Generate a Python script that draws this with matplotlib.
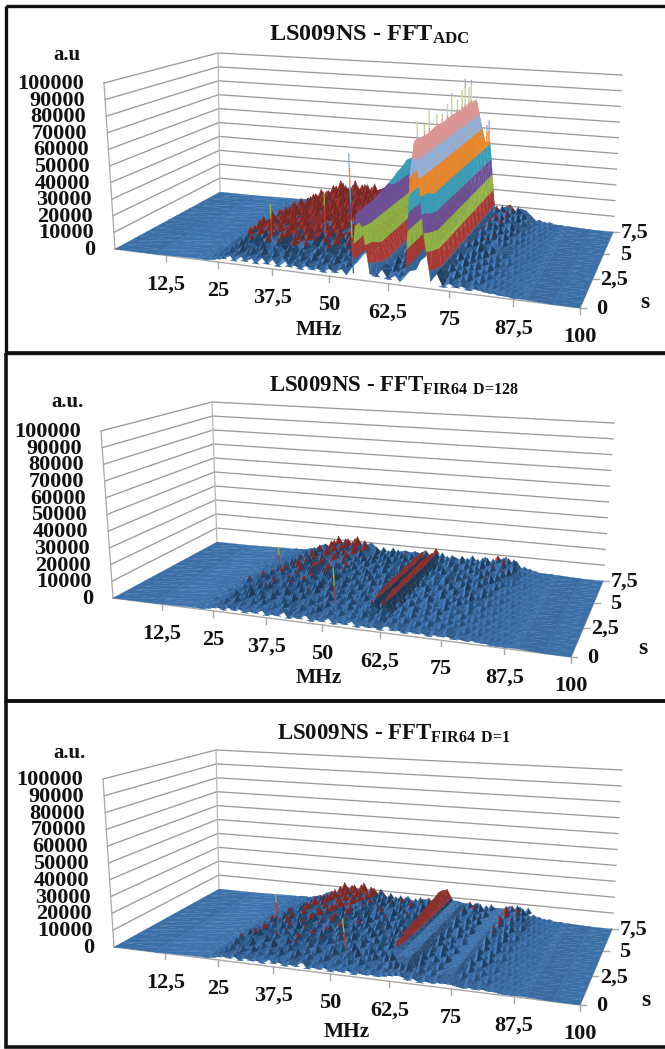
import numpy as np
import matplotlib
matplotlib.use('Agg')
import matplotlib.pyplot as plt
from matplotlib.collections import PolyCollection
from matplotlib.patches import Rectangle

plt.rcParams['font.family'] = ['Liberation Serif', 'DejaVu Serif']
plt.rcParams['font.weight'] = 'bold'
plt.rcParams['mathtext.fontset'] = 'custom'
plt.rcParams['mathtext.rm'] = 'Liberation Serif:bold'
plt.rcParams['mathtext.default'] = 'rm'

W, H = 665, 1049

# axes
FREQ = [0, 10, 20, 22.5, 23.75, 25, 26.25, 27.5, 28.75, 30, 31.25, 32.5, 33.75, 35, 36.25, 37.5, 38.75, 40, 41.25, 42.5,
        43.75, 45, 46.25, 47.5, 48.75, 50, 51.25, 52.5, 53.75, 55, 56.25, 57.5, 58.75, 60, 61.25, 62.5, 63.75, 65, 66.25,
        67.5, 68.75, 70, 71.25, 72.5, 73.75, 75, 76.25, 77.5, 78.75, 80, 81.25, 82.5, 83.75, 85, 86.25, 87.5, 90, 95, 100]
TIME = [0, 0.5, 1, 1.5, 2, 2.5, 3, 3.5, 4, 4.5, 5, 5.5, 6, 6.5, 7, 7.5]
FREQ_TICKS = [12.5, 25, 37.5, 50, 62.5, 75, 87.5, 100]
FREQ_LABELS = ['12,5', '25', '37,5', '50', '62,5', '75', '87,5', '100']
TIME_TICKS = [0, 2.5, 5, 7.5]
TIME_LABELS = ['0', '2,5', '5', '7,5']
AMP_TICKS = [0, 10, 20, 30, 40, 50, 60, 70, 80, 90, 100]  # thousands

# amplitude, thousands of a.u., rows front (0 s) to back (7.5 s)
ADC = [
    [0,0,1, 1,2,3,4,6,3,7,4,6,3, 7,4,6,3,8,4,6,3,7,4, 6,3,7,4,6,3,7,36,30,7, 5,8,4,6,3,7,60,80,30,7, 9,3,7,4,6,3,5,4,3,3, 2,2,1, 1,0,0],
    [0,0,1, 2,3,4,7,5,9,6,8,5,9, 6,8,5,9,7,5,8,6,9,5, 8,6,9,5,7,6,8,37,37,24, 24,8,9,5,8,6,78,78,51,51, 9,5,9,6,8,5,7,4,4,3, 2,2,1, 1,0,0],
    [0,0,1, 1,3,5,6,9,7,12,6,9,13, 7,12,6,9,14,7,12,6,9,7, 12,6,8,7,11,6,9,37,37,24, 24,8,10,7,9,5,78,78,51,51, 9,9,5,8,6,7,5,6,3,3, 2,1,1, 1,0,0],
    [0,0,1, 2,2,6,8,14,8,15,9,14,8, 13,16,9,14,8,15,12,7,13,8, 14,9,12,7,11,8,9,37,37,24, 24,8,7,10,6,9,77,78,51,51, 9,6,10,7,8,5,8,5,4,3, 2,2,1, 1,0,0],
    [0,0,1, 1,4,5,9,12,16,10,16,11,15, 9,17,12,10,16,11,18,9,15,10, 16,8,13,9,14,7,10,38,38,24, 24,8,10,6,9,8,77,78,51,51, 9,10,7,9,6,8,5,7,3,2, 3,1,1, 1,0,0],
    [0,0,1, 2,3,4,8,15,11,17,12,18,10, 16,11,18,12,16,10,15,12,18,9, 11,16,9,14,8,12,9,39,39,24, 24,8,6,11,7,10,78,79,51,51, 9,7,9,8,10,6,7,4,5,3, 2,2,1, 1,0,0],
    [0,0,1, 1,3,6,7,10,16,11,17,13,18, 11,18,13,10,17,13,11,18,12,16, 10,14,11,9,12,8,11,40,40,24, 24,8,10,8,6,9,78,79,51,51, 9,11,6,10,7,9,6,6,3,3, 2,1,1, 1,0,0],
    [0,0,1, 2,2,5,9,8,12,17,10,18,12, 16,11,19,13,17,11,15,18,12,10, 15,11,13,10,9,12,10,41,42,24, 24,8,6,9,8,7,77,79,51,51, 9,10,8,11,6,8,7,5,4,2, 3,2,1, 1,0,0],
    [0,0,1, 1,4,4,7,12,9,14,18,12,17, 11,18,12,16,13,19,11,15,17,12, 11,16,10,14,9,11,8,43,42,24, 24,8,10,6,9,7,78,80,51,51, 9,6,10,9,11,7,8,5,3,3, 2,2,1, 1,0,0],
    [0,0,1, 2,2,6,5,9,14,11,16,18,13, 17,12,16,19,13,17,12,16,11,15, 17,12,10,15,11,9,11,44,45,24, 24,8,7,10,6,9,78,79,51,51, 9,11,8,10,7,9,6,6,4,2, 2,1,1, 1,0,0],
    [0,0,1, 1,3,4,7,6,10,15,12,17,19, 13,17,14,12,18,13,16,19,13,11, 16,10,14,11,12,10,9,46,44,24, 24,8,9,8,10,7,78,80,51,51, 9,7,11,8,10,6,9,4,5,3, 2,2,1, 1,0,0],
    [0,0,1, 2,2,5,6,8,7,12,16,13,18, 19,14,12,18,16,12,19,14,17,12, 10,15,12,9,13,11,10,45,47,24, 24,8,10,7,9,6,77,80,51,51, 9,11,9,12,7,10,7,6,3,3, 2,1,1, 1,0,0],
    [0,0,1, 1,3,3,5,7,9,8,13,17,14, 12,18,20,13,17,14,12,18,13,16, 11,14,10,12,9,15,11,44,46,24, 24,8,9,6,10,8,78,81,51,51, 9,7,12,8,11,9,8,5,4,2, 3,2,1, 1,0,0],
    [0,0,1, 2,2,4,4,6,8,10,9,14,18, 15,20,14,12,19,15,21,13,17,12, 14,10,13,11,14,9,12,43,45,24, 24,8,7,10,8,9,77,81,51,51, 9,8,10,12,9,10,7,6,3,3, 2,1,1, 1,0,0],
    [0,0,1, 1,2,3,5,5,7,9,11,10,15, 19,16,13,20,15,18,13,19,14,11, 13,11,14,9,10,12,10,42,44,24, 24,8,10,8,9,7,77,80,51,51, 9,12,9,10,12,8,9,5,4,2, 2,2,1, 1,0,0],
    [0,0,1, 1,1,2,3,4,4,6,7,9,8, 12,14,12,15,11,14,12,10,14,10, 11,9,10,9,8,10,9,37,38,24, 24,8,9,7,8,7,50,52,51,51, 9,10,9,11,10,9,8,5,3,2, 2,1,1, 1,0,0],
]

FIR_128 = [
    [0,0,1, 1,2,3,4,2,5,3,5,2,4, 3,5,2,4,3,6,2,4,3,5, 2,4,3,5,2,4,3,5,2,4, 3,4,2,5,3,4,2,4,3,4, 2,4,3,4,2,3,2,3,2,2, 1,1,1, 1,0,0],
    [0,0,1, 1,2,4,6,3,8,5,3,7,4, 8,4,6,3,8,5,3,7,4,6, 8,3,6,4,7,3,6,4,8,5, 4,7,3,6,4,7,3,6,4,7, 3,6,4,5,3,5,3,4,2,2, 2,1,1, 1,0,0],
    [0,0,1, 2,1,3,5,8,4,7,10,4,8, 5,9,3,7,5,10,4,6,8,3, 6,8,4,7,3,8,5,3,6,11, 4,12,6,3,7,4,8,3,6,4, 7,3,6,4,6,3,4,3,3,2, 1,2,1, 1,0,0],
    [0,0,1, 1,3,5,3,6,9,3,7,11,5, 8,4,10,6,3,8,11,5,7,4, 9,4,7,3,8,5,3,7,4,11, 3,12,4,7,3,8,4,7,3,8, 4,6,3,7,4,5,3,4,2,3, 2,1,1, 1,0,0],
    [0,0,1, 2,2,3,6,11,4,8,5,9,12, 4,7,11,4,9,6,3,10,5,8, 4,7,5,8,4,6,8,3,7,12, 5,13,6,3,8,5,3,7,5,3, 8,4,6,3,7,3,5,2,3,2, 1,2,1, 1,0,0],
    [0,0,1, 1,2,4,4,7,12,5,10,4,7, 11,5,9,12,4,8,10,3,9,5, 7,3,8,4,7,5,3,8,5,12, 7,12,3,4,7,3,9,5,3,8, 4,9,5,7,3,6,3,4,2,2, 2,1,1, 1,0,0],
    [0,0,1, 2,1,3,6,3,8,11,6,12,4, 8,11,5,7,12,5,9,4,11,6, 9,5,3,8,5,7,4,6,9,13, 4,13,5,7,3,8,5,3,9,4, 7,3,6,10,5,3,6,3,3,2, 2,1,1, 1,0,0],
    [0,0,1, 1,3,2,4,7,5,9,12,5,9, 13,4,11,8,5,12,6,10,4,9, 5,8,6,4,9,3,7,5,3,12, 8,13,3,4,9,5,3,8,4,9, 5,8,3,6,9,4,3,5,2,3, 1,1,1, 1,0,0],
    [0,0,1, 1,2,3,3,5,9,4,7,11,13, 6,9,12,5,10,13,4,8,11,5, 8,4,7,9,4,6,8,4,8,12, 5,13,4,9,5,3,7,4,9,5, 3,10,6,4,8,6,4,3,3,2, 2,1,1, 1,0,0],
    [0,0,1, 2,1,2,5,3,7,10,5,8,12, 10,5,13,9,6,11,7,12,4,8, 4,9,5,7,3,8,5,9,3,13, 9,13,4,5,7,4,9,5,3,8, 6,3,9,11,5,8,3,5,2,2, 1,2,1, 1,0,0],
    [0,0,1, 1,2,2,3,6,4,8,11,6,10, 13,7,11,5,14,8,12,6,9,4, 7,5,8,4,9,6,3,7,5,12, 4,14,6,3,8,5,7,4,9,3, 8,5,3,8,10,4,7,3,3,2, 2,1,1, 1,0,0],
    [0,0,1, 1,1,3,2,4,7,5,9,12,7, 10,14,8,12,6,13,7,11,5,9, 5,8,4,9,5,7,9,4,7,13, 8,13,7,4,9,5,8,3,7,4, 4,9,6,3,8,11,4,5,2,3, 1,1,1, 1,0,0],
    [0,0,1, 1,2,2,3,3,5,8,6,10,13, 8,11,15,7,12,9,14,6,10,7, 9,4,7,10,3,8,5,8,4,12, 6,13,4,8,5,3,9,6,4,9, 7,4,8,11,5,8,10,4,3,2, 2,1,1, 1,0,0],
    [0,0,1, 1,1,2,2,4,4,6,9,7,11, 14,9,12,16,8,13,10,15,7,9, 6,9,5,8,6,9,4,7,9,12, 9,12,6,3,9,7,4,8,5,7, 10,5,9,4,12,6,9,5,2,2, 1,2,1, 1,0,0],
    [0,0,1, 1,1,1,3,2,5,4,7,9,8, 12,15,10,14,12,16,9,11,8,10, 8,5,9,6,8,5,8,5,7,11, 5,13,8,5,7,5,9,6,8,5, 8,10,6,12,8,11,7,4,3,2, 2,1,1, 1,0,0],
    [0,0,1, 1,1,1,2,3,3,5,6,7,6, 9,11,9,12,10,11,8,10,7,8, 6,8,7,6,7,6,7,6,8,6, 7,8,6,7,6,7,6,8,6,7, 8,7,9,8,9,8,7,4,3,2, 1,1,1, 1,0,0],
]

FIR_1 = [
    [0,0,1, 1,2,3,4,3,5,2,5,3,4, 2,5,3,5,2,4,3,6,2,4, 3,5,2,4,3,5,2,4,3,4, 3,4,5,6,6,3,5,2,4,3, 4,4,4,3,2,3,2,3,2,2, 1,1,1, 1,0,0],
    [0,0,1, 2,3,5,7,4,7,3,8,5,3, 7,4,8,3,6,9,4,7,3,6, 8,3,6,4,7,3,8,5,3,6, 4,8,9,8,8,4,7,3,6,4, 5,5,5,7,4,6,3,5,2,2, 2,1,1, 1,0,0],
    [0,0,1, 1,3,4,8,11,3,9,5,7,3, 10,6,4,8,11,3,7,5,9,4, 6,9,3,7,4,10,5,7,9,4, 9,10,8,8,8,3,9,5,4,7, 6,6,6,3,8,4,6,3,3,2, 1,2,1, 1,0,0],
    [0,0,1, 2,2,6,3,7,12,4,9,6,11, 4,9,6,12,3,8,5,11,4,7, 4,8,5,10,3,7,9,3,8,5, 9,10,8,8,8,9,4,8,5,9, 6,6,6,8,4,9,3,5,3,3, 2,1,1, 1,0,0],
    [0,0,1, 1,4,3,8,4,9,13,5,8,4, 11,5,9,4,8,12,6,3,9,5, 11,4,7,3,9,5,4,8,4,10, 10,11,8,8,7,4,8,3,9,5, 6,6,6,4,9,5,8,3,2,2, 2,1,1, 1,0,0],
    [0,0,1, 2,2,5,6,9,5,11,7,4,12, 8,3,11,7,4,9,12,5,8,3, 7,10,4,8,5,9,7,3,9,6, 10,11,8,8,8,7,3,9,4,8, 6,6,6,9,5,8,4,6,3,2, 1,2,1, 1,0,0],
    [0,0,1, 1,3,4,3,7,12,5,9,13,5, 10,12,5,8,11,6,10,4,12,7, 4,8,6,3,10,4,8,6,3,11, 11,12,8,8,8,4,9,5,7,3, 6,6,6,5,9,4,8,4,3,3, 2,1,1, 1,0,0],
    [0,0,1, 2,2,2,5,9,4,8,12,6,10, 4,13,7,11,5,13,7,10,5,9, 12,4,9,6,8,3,7,10,5,7, 11,12,8,8,8,9,5,8,3,7, 6,6,6,10,4,8,5,6,2,2, 2,2,1, 1,0,0],
    [0,0,1, 1,2,3,3,5,9,12,6,9,13, 7,10,14,5,9,12,6,11,4,8, 6,9,3,8,5,10,4,7,9,4, 12,13,8,8,7,5,8,3,9,5, 6,6,6,5,11,6,9,3,3,2, 1,1,1, 1,0,0],
    [0,0,1, 2,1,2,6,3,7,4,10,14,8, 11,6,12,15,7,10,13,5,9,6, 10,5,8,11,4,7,9,3,6,10, 12,13,8,8,8,8,3,9,5,9, 6,6,6,11,6,9,5,7,2,3, 2,1,1, 1,0,0],
    [0,0,1, 1,2,2,3,7,5,9,6,11,15, 8,13,7,11,16,6,12,9,5,10, 5,9,12,6,9,5,8,11,4,7, 13,14,8,8,8,5,9,4,8,6, 6,6,6,7,12,5,10,4,3,2, 2,2,1, 1,0,0],
    [0,0,1, 1,1,3,2,4,8,5,10,7,12, 15,8,13,9,6,15,7,11,8,4, 11,6,4,10,7,11,5,9,6,11, 13,14,8,8,7,9,4,9,6,10, 6,6,6,12,7,11,6,8,3,2, 1,2,1, 1,0,0],
    [0,0,1, 1,2,2,3,3,5,8,6,11,8, 13,16,9,14,11,7,15,8,12,6, 9,4,11,6,10,4,12,6,9,5, 14,15,8,8,8,5,11,6,9,4, 6,6,6,8,13,6,11,5,3,3, 2,1,1, 1,0,0],
    [0,0,1, 1,1,2,2,4,4,6,9,7,12, 9,14,16,11,15,9,13,16,7,10, 5,10,7,12,5,11,7,10,4,12, 14,15,8,8,8,10,5,12,7,9, 6,6,6,13,7,12,8,6,2,2, 2,1,1, 1,0,0],
    [0,0,1, 1,1,1,3,2,5,4,7,9,8, 13,16,10,15,12,17,11,14,9,11, 10,6,9,7,9,6,8,6,11,7, 15,16,8,8,8,6,11,7,10,6, 6,6,6,8,11,9,10,5,3,2, 1,1,1, 1,0,0],
    [0,0,1, 1,1,1,2,3,3,5,6,7,6, 10,12,10,13,11,12,9,11,8,9, 7,8,7,8,7,8,7,7,8,7, 14,15,8,8,7,7,8,8,7,8, 6,6,6,8,9,8,8,4,3,2, 2,1,1, 1,0,0],
]

# isolated thin lines standing out of the surface: MHz, s, thousands
ADC_SPIKE_F = [54, 33, 40]
ADC_SPIKE_S = [0.5, 1.5, 3.5]
ADC_SPIKE_Z = [68, 29, 28]
FIR_128_SPIKE_F = [52, 32]
FIR_128_SPIKE_S = [0.5, 3.0]
FIR_128_SPIKE_Z = [30, 25]
FIR_1_SPIKE_F = [52, 30]
FIR_1_SPIKE_S = [0.7, 3.0]
FIR_1_SPIKE_Z = [28, 25]
# noise tips along the top of the tall ADC ridge and of the lower one in front of it
ADC_TIP_S = [0.8, 1.5, 2.0, 2.8, 3.4, 4.0, 4.5, 5.2, 5.8, 6.2, 6.7, 7.0]
ADC_TIP_Z = [88, 84, 90, 85, 83, 87, 92, 86, 90, 96, 89, 93]
ADC_TIP_F = 67.5
ADC_LOW_TIP_S = [1.5, 2.5, 3.0, 3.5, 4.5, 5.0, 5.5, 6.0, 6.5, 7.0, 7.3]
ADC_LOW_TIP_Z = [56, 58, 57, 59, 57, 60, 58, 61, 59, 64, 66]
ADC_LOW_TIP_F = 71.25

# one colour per 10000 a.u. band, bottom up
BAND_COLORS = ['#3b6fa8', '#b03c38', '#8fb044', '#6d4f96', '#3a9db8', '#e8872c',
               '#94afd6', '#d99694', '#c3d69b', '#b3a2c7']


def homography(corners):
    # unit square (front-left, front-right, back-right, back-left) to pixels
    src = [(0, 0), (1, 0), (1, 1), (0, 1)]
    A, b = [], []
    for (u, v), (x, y) in zip(src, corners):
        A.append([u, v, 1, 0, 0, 0, -u * x, -v * x])
        A.append([0, 0, 0, u, v, 1, -u * y, -v * y])
        b += [x, y]
    return np.append(np.linalg.solve(np.array(A, float), np.array(b, float)), 1).reshape(3, 3)


def make_projection(floor, top):
    hf, ht = homography(floor), homography(top)

    def project(f, s, z):
        f, s, z = np.asarray(f, float), np.asarray(s, float), np.asarray(z, float)
        p = np.stack([f / 100, s / 7.5, np.ones_like(f)], axis=-1)
        a, c = p @ hf.T, p @ ht.T
        a = a[..., :2] / a[..., 2:]
        c = c[..., :2] / c[..., 2:]
        return a + (c - a) * (z[..., None] / 100)
    return project


def clip_z(poly, limit, keep_above):
    out = []
    n = len(poly)
    for i in range(n):
        p, q = poly[i], poly[(i + 1) % n]
        pin = p[2] >= limit if keep_above else p[2] <= limit
        qin = q[2] >= limit if keep_above else q[2] <= limit
        if pin:
            out.append(p)
        if pin != qin:
            t = (limit - p[2]) / (q[2] - p[2])
            out.append(p + (q - p) * t)
    return out


def shade(color, k):
    rgb = np.array(matplotlib.colors.to_rgb(color)) * k
    return tuple(np.clip(rgb, 0, 1))


def add_facet(tri, k_blue, k_red, project, polys, cols):
    tri = np.array(tri)
    zmin, zmax = tri[:, 2].min(), tri[:, 2].max()
    for b in range(len(BAND_COLORS)):
        lo, hi = b * 10, (b + 1) * 10
        if zmax < lo or zmin > hi:
            continue
        poly = clip_z(list(tri), lo, True)
        poly = clip_z(poly, hi, False) if poly else poly
        if len(poly) < 3:
            continue
        poly = np.array(poly)
        polys.append(project(poly[:, 0], poly[:, 1], poly[:, 2]))
        if b == 0:
            cols.append(shade(BAND_COLORS[0], k_blue))
        elif b == 1:
            cols.append(shade(BAND_COLORS[1], k_red))
        else:
            cols.append(BAND_COLORS[b])


def surface(ax, project, values):
    z = np.array(values, float)
    f = np.array(FREQ, float)
    s = np.array(TIME, float)
    nr, nc = z.shape
    # noisy nodes stand as narrow peaks on a lower bed, steady ridges stay as they are
    steady = np.zeros(z.shape, bool)
    for i in range(nr):
        up = z[min(i + 1, nr - 1)]
        dn = z[max(i - 1, 0)]
        steady[i] = (z[i] > 22) | ((z[i] >= 5) & (abs(z[i] - up) <= 1) & (abs(z[i] - dn) <= 1))
    bed = np.where(steady, z, np.where(z >= 11, 0.72 * z, 0.6 * z))
    pts = np.stack([np.tile(f, (nr, 1)), np.tile(s[:, None], (1, nc)), bed], axis=-1)
    polys, cols = [], []
    # camera sits nearest the 100 MHz / 0 s corner: paint back to front, left to right
    for i in range(nr - 2, -1, -1):
        for j in range(nc - 1):
            bl, br, fl, fr = pts[i + 1, j], pts[i + 1, j + 1], pts[i, j], pts[i, j + 1]
            dzf = (br[2] + fr[2] - bl[2] - fl[2]) / 2
            dzs = abs(bl[2] + br[2] - fl[2] - fr[2]) / 2
            tall = max(bl[2], br[2], fl[2], fr[2]) > 22
            k = 0.9 if tall else np.clip(1 + 0.06 * dzf - 0.04 * dzs, 0.5, 1.25)
            kr = 0.95 if tall else 0.8
            add_facet((bl, br, fl), k, kr, project, polys, cols)
            add_facet((br, fl, fr), k, kr, project, polys, cols)
        for row in ([i + 1, i] if i == 0 else [i + 1]):
            for j in range(3, nc - 3):
                if steady[row, j] or z[row, j] <= 0:
                    continue
                if z[row, max(j - 1, 0)] > 22 or z[row, j + 1] > 22 or z[row, j + 2] > 22:
                    continue
                f0 = f[j] + (0.6 if row % 2 else 0.0)
                s0 = s[row]
                top = z[row, j]
                base = bed[row, j]
                h = top - base
                apex = (f0, s0, top)
                left = (f0 - 0.85, s0, base)
                right = (f0 + 0.85, s0, base)
                front = (f0, max(s0 - 0.28, 0), base)
                kl = np.clip(1 + 0.06 * h, 1, 1.4)
                kd = np.clip(1 - 0.12 * h, 0.42, 1)
                add_facet((apex, left, front), kl, 1.05, project, polys, cols)
                add_facet((apex, front, right), kd, 0.68, project, polys, cols)
    ax.add_collection(PolyCollection(polys, facecolors=cols, edgecolors=cols, linewidths=0.2, zorder=3))


def spikes(ax, project, fs, ss, zs, start=0):
    for f, s, z in zip(fs, ss, zs):
        for b in range(len(BAND_COLORS)):
            lo, hi = max(b * 10, start), min((b + 1) * 10, z)
            if lo >= hi:
                continue
            p = project([f, f], [s, s], [lo, hi])
            ax.plot(p[:, 0], p[:, 1], color=BAND_COLORS[b], lw=1.0, zorder=4, solid_capstyle='butt')


def walls(ax, project):
    for a in AMP_TICKS:
        p = project([0, 0, 100], [0, 7.5, 7.5], [a, a, a])
        if a > 0:
            ax.plot(p[:, 0], p[:, 1], color='#9a9a9a', lw=0.95, zorder=1)
    p = project([0, 0], [0, 0], [0, 100])
    ax.plot(p[:, 0], p[:, 1], color='#a8a8a8', lw=0.9, zorder=1)
    p = project([0, 0], [7.5, 7.5], [0, 100])
    ax.plot(p[:, 0], p[:, 1], color='#b8b8b8', lw=0.9, zorder=1)
    p = project([0, 100], [0, 0], [0, 0])
    ax.plot(p[:, 0], p[:, 1], color='#a8a8a8', lw=1.0, zorder=2)
    p = project([100, 100], [0, 7.5], [0, 0])
    ax.plot(p[:, 0], p[:, 1], color='#a8a8a8', lw=1.0, zorder=2)


def labels(ax, project, fontsize=16):
    for a in AMP_TICKS:
        x, y = project(0, 0, a)
        ax.text(x - 20, y + 1, str(a * 1000), ha='right', va='center', fontsize=fontsize, color='#111111', zorder=5)
    for t, lab in zip(FREQ_TICKS, FREQ_LABELS):
        x, y = project(t, 0, 0)
        ax.plot([x, x], [y, y + 6], color='#a8a8a8', lw=1.0, zorder=2)
        ax.text(x, y + 29, lab, ha='center', va='center', fontsize=fontsize, color='#111111', zorder=5)
    for t, lab in zip(TIME_TICKS, TIME_LABELS):
        x, y = project(100, t, 0)
        ax.plot([x, x + 6], [y, y], color='#a8a8a8', lw=1.0, zorder=2)
        ax.text(x + 22, y + 1, lab, ha='center', va='center', fontsize=fontsize, color='#111111', zorder=5)


panels = [
    dict(values=ADC, spike=(ADC_SPIKE_F, ADC_SPIKE_S, ADC_SPIKE_Z),
         floor=[(115, 249), (580, 308), (613, 232), (220, 192)],
         top=[(104, 83), (589, 118), (622, 75), (218, 53)],
         title=r'LS009NS - FFT$_{ADC}$', title_xy=(369, 35), title_size=17.5, unit='a.u', unit_xy=(67, 55),
         mhz_xy=(319, 330), s_xy=(645, 302)),
    dict(values=FIR_128, spike=(FIR_128_SPIKE_F, FIR_128_SPIKE_S, FIR_128_SPIKE_Z),
         floor=[(113, 598), (571, 657), (603, 581), (217, 542)],
         top=[(101, 431), (580, 467), (614, 423), (212, 402)],
         title=r'LS009NS - FFT$_{FIR64\ D\!=\!128}$', title_xy=(394, 386), title_size=16.5, unit='a.u.', unit_xy=(68, 402),
         mhz_xy=(319, 678), s_xy=(643, 649)),
    dict(values=FIR_1, spike=(FIR_1_SPIKE_F, FIR_1_SPIKE_S, FIR_1_SPIKE_Z),
         floor=[(114, 947), (580, 1005), (612, 929), (219, 889)],
         top=[(103, 779), (589, 815), (622, 770), (216, 750)],
         title=r'LS009NS - FFT$_{FIR64\ D\!=\!1}$', title_xy=(394, 734), title_size=16.5, unit='a.u.', unit_xy=(69, 753),
         mhz_xy=(347, 1032), s_xy=(646, 1000)),
]

fig = plt.figure(figsize=(W / 100, H / 100), dpi=100)
ax = fig.add_axes([0, 0, 1, 1])
ax.set_xlim(0, W)
ax.set_ylim(H, 0)
ax.axis('off')

# frames
ax.add_patch(Rectangle((6, 6), W, 346.5, fc='none', ec='#111111', lw=2.4, zorder=6))
ax.add_patch(Rectangle((6, 353), W, 348, fc='none', ec='#111111', lw=2.6, zorder=6))
ax.add_patch(Rectangle((6, 701), W, 346, fc='none', ec='#111111', lw=2.6, zorder=6))

for n, p in enumerate(panels):
    project = make_projection(p['floor'], p['top'])
    walls(ax, project)
    surface(ax, project, p['values'])
    spikes(ax, project, *p['spike'])
    if n == 0:
        spikes(ax, project, [ADC_TIP_F] * len(ADC_TIP_S), ADC_TIP_S, ADC_TIP_Z, start=70)
        spikes(ax, project, [ADC_LOW_TIP_F] * len(ADC_LOW_TIP_S), ADC_LOW_TIP_S, ADC_LOW_TIP_Z, start=50)
    labels(ax, project)
    ax.text(*p['title_xy'], p['title'], ha='center', va='center', fontsize=p['title_size'], color='#111111', zorder=5)
    ax.text(*p['unit_xy'], p['unit'], ha='center', va='center', fontsize=15, color='#111111', zorder=5)
    ax.text(*p['mhz_xy'], 'MHz', ha='center', va='center', fontsize=15.5, color='#111111', zorder=5)
    ax.text(*p['s_xy'], 's', ha='center', va='center', fontsize=17, color='#111111', zorder=5)

fig.savefig('out.png', dpi=100)
